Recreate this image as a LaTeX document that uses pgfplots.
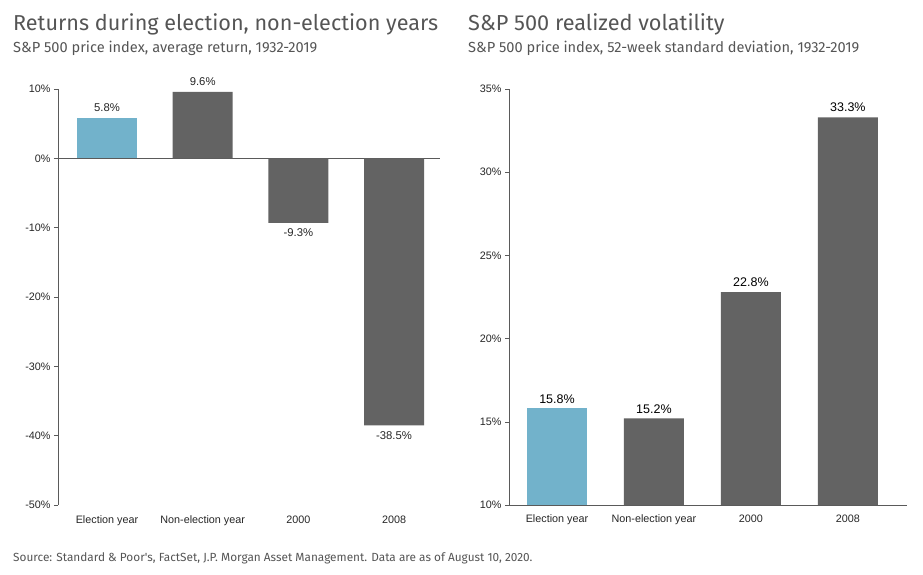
\documentclass[border=0pt]{standalone}
\usepackage{fontspec}
\setmainfont{Liberation Sans}
\newfontfamily\titlefont{Fira Sans}
\usepackage{pgfplots}
\pgfplotsset{compat=1.18}
\definecolor{jpblue}{RGB}{114,178,203}
\definecolor{jpgray}{RGB}{99,99,99}
\definecolor{titlegray}{RGB}{85,85,85}
\definecolor{axgray}{RGB}{90,90,90}

\pgfplotsset{
  jpbars/.style={
    scale only axis,
    height=416pt,
    axis y line*=left,
    axis x line*=bottom,
    y axis line style={draw=axgray, line width=0.8pt},
    ytick style={draw=axgray, line width=0.6pt},
    xtick style={draw=none},
    major tick length=4pt,
    tick align=outside,
    xtick={0,1,2,3},
    xticklabels={Election year, Non-election year, 2000, 2008},
    /pgf/number format/assume math mode=true,
    tick label style={font=\fontsize{10.8}{12}\selectfont, text=black!85},
    yticklabel={\pgfmathprintnumber{\tick}\%},
    ybar, bar width=60pt, bar shift=0pt,
    nodes near coords={\pgfmathprintnumber[fixed,precision=1,fixed zerofill]{\pgfplotspointmeta}\%},
    clip=false,
  }
}

\begin{document}
\begin{tikzpicture}
\useasboundingbox (0,0) rectangle (923pt,-574pt);

% left panel
\node[anchor=base west, inner sep=0pt, text=titlegray, font=\titlefont\fontsize{21.6}{26}\selectfont] at (13pt,-30pt) {Returns during election, non-election years};
\node[anchor=base west, inner sep=0pt, text=titlegray, font=\titlefont\fontsize{14.6}{17}\selectfont] at (13pt,-52pt) {S\&P 500 price index, average return, 1932-2019};

\begin{axis}[jpbars,
  at={(58pt,-505pt)}, anchor=south west,
  width=382pt,
  xmin=-0.512, xmax=3.48,
  ymin=-50, ymax=10, ytick distance=10,
  x axis line style={draw=none},
  xticklabel style={yshift=-3pt},
  every node near coord/.append style={font=\fontsize{11.3}{13}\selectfont, text=black!85, inner sep=6pt},
  extra y ticks={0}, extra y tick labels={},
  extra y tick style={grid=major, major grid style={draw=axgray, line width=0.8pt}},
]
\addplot[fill=jpblue, draw=none] coordinates {(0,5.8)};
\addplot[fill=jpgray, draw=none] coordinates {(1,9.6) (2,-9.3) (3,-38.5)};
\end{axis}

% right panel
\node[anchor=base west, inner sep=0pt, text=titlegray, font=\titlefont\fontsize{21.7}{26}\selectfont] at (468pt,-30pt) {S\&P 500 realized volatility};
\node[anchor=base west, inner sep=0pt, text=titlegray, font=\titlefont\fontsize{14.6}{17}\selectfont] at (468pt,-52pt) {S\&P 500 price index, 52-week standard deviation, 1932-2019};

\begin{axis}[jpbars,
  at={(509pt,-505pt)}, anchor=south west,
  width=398pt,
  xmin=-0.495, xmax=3.61,
  ymin=10, ymax=35, ytick distance=5,
  x axis line style={draw=axgray, line width=0.8pt},
  xticklabel style={yshift=-2pt},
  every node near coord/.append style={font=\fontsize{12.5}{14}\selectfont, text=black, inner sep=5pt},
]
\addplot[fill=jpblue, draw=none] coordinates {(0,15.8)};
\addplot[fill=jpgray, draw=none] coordinates {(1,15.2) (2,22.8) (3,33.3)};
\end{axis}

\node[anchor=base west, inner sep=0pt, text=titlegray, font=\titlefont\fontsize{11.8}{14}\selectfont] at (13pt,-561pt) {Source: Standard \& Poor's, FactSet, J.P. Morgan Asset Management. Data are as of August 10, 2020.};
\end{tikzpicture}
\end{document}
